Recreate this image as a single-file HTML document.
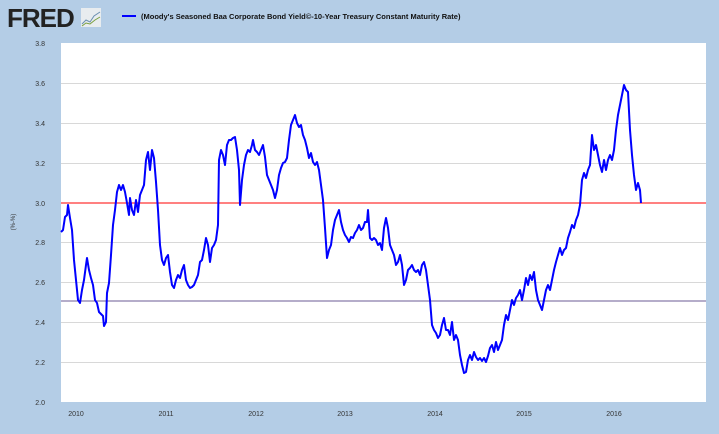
<!DOCTYPE html>
<html><head><meta charset="utf-8"><style>
body{margin:0;width:719px;height:429px;background:#b4cde6;overflow:hidden;font-family:"Liberation Sans",sans-serif}
</style></head><body>
<svg width="719" height="429" xmlns="http://www.w3.org/2000/svg">
<rect width="719" height="429" fill="#b4cde6"/>
<text x="7" y="27" font-size="26" font-weight="bold" fill="#222" font-family="Liberation Sans" letter-spacing="-1">FRED</text>
<rect x="81" y="8" width="20" height="19" fill="#e8ecef"/>
<polyline points="82,24 86,20 90,22 94,16 100,12" fill="none" stroke="#6a8fb0" stroke-width="1"/>
<polyline points="82,26 86,23 90,24 95,20 100,17" fill="none" stroke="#7aa040" stroke-width="1"/>
<line x1="122" y1="16" x2="136" y2="16" stroke="#0000ff" stroke-width="2"/>
<text x="141" y="19" font-size="7.5" font-weight="bold" fill="#111">(Moody's Seasoned Baa Corporate Bond Yield©-10-Year Treasury Constant Maturity Rate)</text>
<rect x="61" y="43" width="645" height="359" fill="#fff"/>
<g stroke="#d8d8d8" stroke-width="1">
<line x1="61" x2="706" y1="83.5" y2="83.5"/><line x1="61" x2="706" y1="123.5" y2="123.5"/><line x1="61" x2="706" y1="163.5" y2="163.5"/><line x1="61" x2="706" y1="242.5" y2="242.5"/><line x1="61" x2="706" y1="282.5" y2="282.5"/><line x1="61" x2="706" y1="322.5" y2="322.5"/><line x1="61" x2="706" y1="362.5" y2="362.5"/>
</g>
<g font-size="7" fill="#333" text-anchor="end">
<text x="45" y="46">3.8</text><text x="45" y="86">3.6</text><text x="45" y="126">3.4</text><text x="45" y="166">3.2</text><text x="45" y="206">3.0</text><text x="45" y="245">2.8</text><text x="45" y="285">2.6</text><text x="45" y="325">2.4</text><text x="45" y="365">2.2</text><text x="45" y="405">2.0</text>
</g>
<text x="15" y="222" font-size="6" fill="#333" transform="rotate(-90 15 222)" text-anchor="middle">(%-%)</text>
<g font-size="7" fill="#333" text-anchor="middle">
<text x="76" y="416">2010</text><text x="166" y="416">2011</text><text x="256" y="416">2012</text><text x="345" y="416">2013</text><text x="435" y="416">2014</text><text x="524" y="416">2015</text><text x="614" y="416">2016</text>
</g>
<line x1="61" x2="706" y1="203" y2="203" stroke="#ff0000" stroke-width="1"/>
<line x1="61" x2="706" y1="301" y2="301" stroke="#6b5b95" stroke-width="1"/>
<polyline fill="none" stroke="#0000ff" stroke-width="2" stroke-linejoin="round" points="61,232 63,230 65,217 67,215 68,205 70,218 72,230 74,260 76,280 78,300 80,303 82,290 84,280 86,265 87,258 89,270 91,278 93,285 95,300 97,303 99,312 101,314 103,316 104,326 106,322 107,293 109,283 111,255 113,225 115,210 117,192 119,185 121,190 123,185 125,192 127,203 129,215 130,198 132,210 134,215 136,200 138,212 140,195 142,190 144,185 146,160 148,152 150,170 152,150 154,158 156,182 158,210 160,245 162,260 164,265 166,258 168,255 170,272 172,285 174,288 176,280 178,275 180,278 182,270 184,265 186,280 188,285 190,288 192,287 194,285 196,280 198,275 200,262 202,260 204,250 206,238 208,245 210,262 212,248 214,245 216,240 218,225 219,160 221,150 223,155 225,165 227,145 229,140 231,140 233,138 235,137 237,150 239,170 240,205 242,180 244,165 246,155 248,150 250,152 252,145 253,140 255,150 257,152 259,155 261,150 263,145 265,157 267,175 269,180 271,185 273,190 275,198 277,190 279,175 281,168 283,163 285,162 287,158 289,140 291,125 293,120 295,115 297,123 299,127 301,125 303,135 305,140 307,148 309,158 311,153 313,162 315,165 317,162 319,170 321,185 323,200 325,228 327,258 329,250 331,245 333,230 335,220 337,215 339,210 341,222 343,230 345,235 347,238 349,242 351,237 353,238 355,233 357,230 359,225 361,230 363,228 365,222 367,222 368,210 370,238 372,240 374,238 376,240 378,245 380,243 382,250 384,228 386,218 388,228 390,245 392,250 394,255 396,265 398,262 400,255 402,265 404,285 406,280 408,270 410,268 412,265 414,270 416,272 418,270 420,275 422,265 424,262 426,270 428,285 430,300 432,325 434,330 436,333 438,338 440,335 442,325 444,318 446,330 448,330 450,335 452,322 454,340 456,335 458,340 460,355 462,365 464,373 466,372 468,360 470,355 472,360 474,352 476,357 478,360 480,358 482,361 484,358 486,362 488,356 490,348 492,345 494,352 496,342 498,350 500,345 502,340 504,325 506,315 508,320 510,310 512,300 514,305 516,298 518,295 520,290 522,300 524,290 526,278 528,285 530,275 532,280 534,272 536,290 538,300 540,305 542,310 544,300 546,290 548,285 550,290 552,280 554,270 556,262 558,255 560,248 562,255 564,250 566,248 568,238 570,232 572,225 574,228 576,220 578,215 580,205 582,180 584,173 586,178 588,170 590,165 592,135 594,150 596,145 598,155 600,165 602,172 604,160 606,170 608,160 610,155 612,160 614,150 616,130 618,115 620,105 622,95 624,85 626,90 628,92 630,130 632,155 634,175 636,190 638,183 640,190 641,203"/>
</svg>
</body></html>
